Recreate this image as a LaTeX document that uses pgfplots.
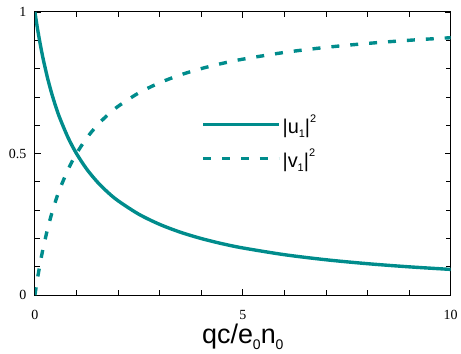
\documentclass[border=0pt]{standalone}
\usepackage{fontspec}
\setmainfont{Liberation Serif}
\newfontfamily\arial{Liberation Sans}
\usepackage{pgfplots}
\pgfplotsset{compat=1.18}
\usepackage{pgfplotstable}
\definecolor{teal1}{HTML}{008C8C}
\newcommand{\lsub}[2]{\raisebox{-0.22em}{\fontsize{#1}{#1}\selectfont #2}}
\newcommand{\lsup}[2]{\raisebox{0.55em}{\fontsize{#1}{#1}\selectfont #2}}
\pgfplotstableread{
x u v
0 1 0
0.05 0.9524 0.0476
0.1 0.9091 0.0909
0.15 0.8696 0.1304
0.2 0.8333 0.1667
0.3 0.7692 0.2308
0.4 0.7143 0.2857
0.5 0.6667 0.3333
0.6 0.625 0.375
0.8 0.5556 0.4444
1 0.5 0.5
1.25 0.4444 0.5556
1.5 0.4 0.6
1.75 0.3636 0.6364
2 0.3333 0.6667
2.5 0.2857 0.7143
3 0.25 0.75
3.5 0.2222 0.7778
4 0.2 0.8
4.5 0.1818 0.8182
5 0.1667 0.8333
6 0.1429 0.8571
7 0.125 0.875
8 0.1111 0.8889
9 0.1 0.9
10 0.0909 0.9091
}\datatable
\begin{document}
\begin{tikzpicture}
\begin{axis}[
  scale only axis, width=417bp, height=284bp,
  xmin=0, xmax=10, ymin=0, ymax=1,
  xtick={0,5,10}, ytick={0,0.5,1},
  minor xtick={1,2,3,4,6,7,8,9},
  minor ytick={0.1,0.2,0.3,0.4,0.6,0.7,0.8,0.9},
  tick align=inside, major tick length=6bp, minor tick length=5bp,
  tick style={black, line width=0.8bp},
  axis line style={black, line width=1bp},
  /pgf/number format/assume math mode=true,
  ticklabel style={font=\fontsize{14bp}{16bp}\selectfont},
  xticklabel style={yshift=-12bp},
  yticklabel style={xshift=-5bp},
  xlabel={\arial qc/e\lsub{14bp}{0}n\lsub{14bp}{0}},
  xlabel style={font=\fontsize{27bp}{30bp}\selectfont, yshift=3bp},
  legend style={draw=none, fill=none, at={(rel axis cs:0.40,0.645)}, anchor=north west,
    font=\fontsize{20bp}{24bp}\arial, row sep=10bp, inner sep=0pt},
  legend cell align=left,
  legend image code/.code={\draw[#1] (0bp,0bp) -- (64bp,0bp); \path (0bp,0bp) -- (76bp,0bp);},
]
\addplot[teal1, line width=3.4bp, smooth, tension=0.5] table[x=x,y=u] {\datatable};
\addlegendentry{|u\lsub{11bp}{1}|\lsup{11bp}{2}}
\addplot[teal1, line width=3.4bp, smooth, tension=0.5, dash pattern=on 8bp off 11bp] table[x=x,y=v] {\datatable};
\addlegendentry{|v\lsub{11bp}{1}|\lsup{11bp}{2}}
\end{axis}
\path (current axis.south west) ++(-35bp,-59bp) coordinate (a);
\path (current axis.north east) ++(9bp,12bp) coordinate (b);
\useasboundingbox (a) rectangle (b);
\end{tikzpicture}
\end{document}
